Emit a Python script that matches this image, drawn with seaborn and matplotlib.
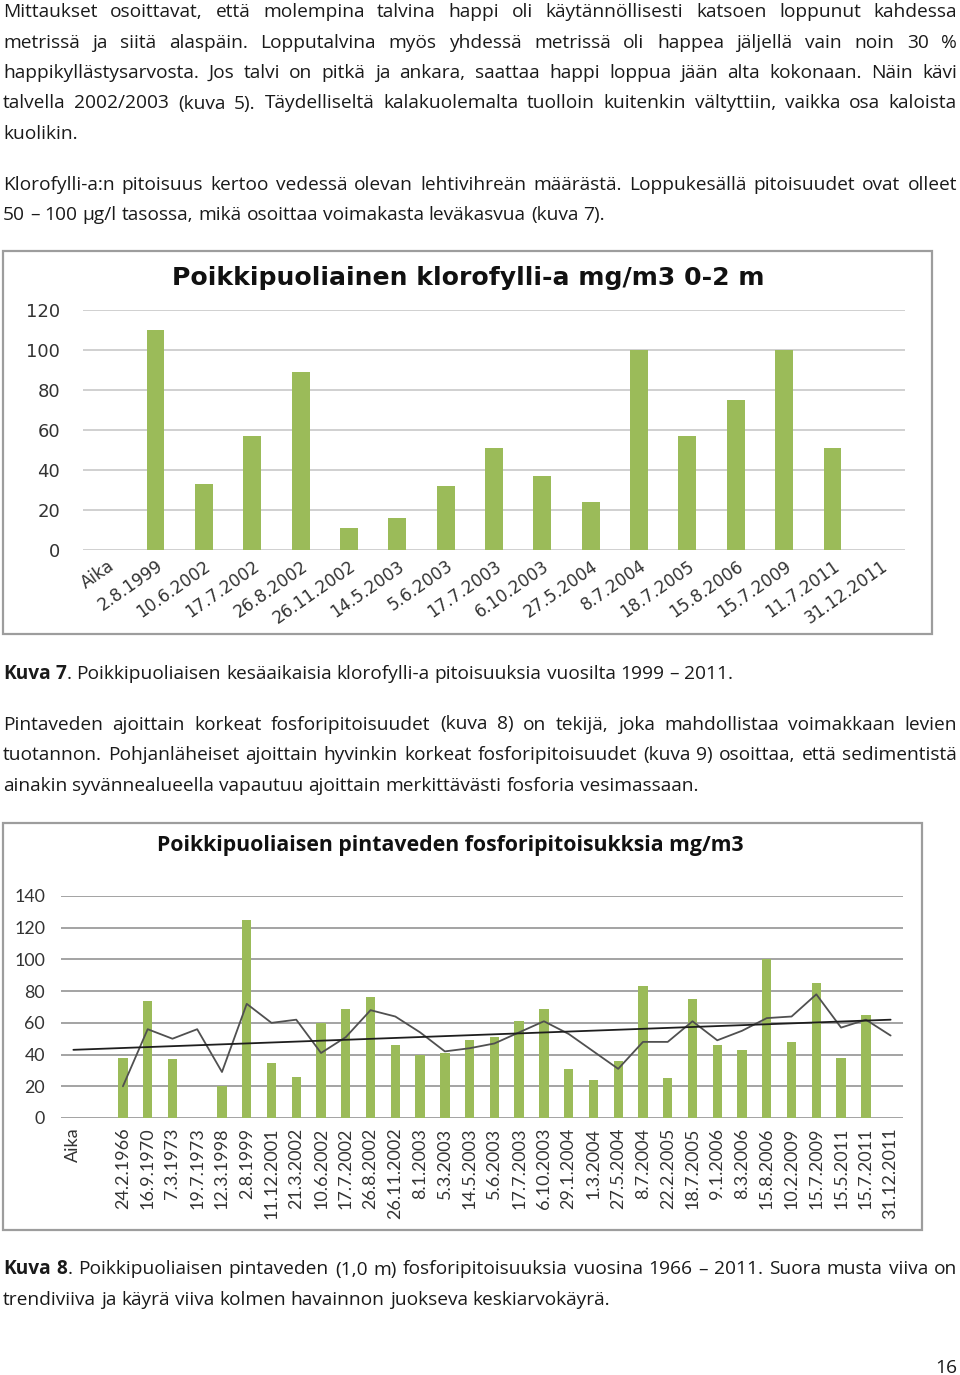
import numpy as np
import pandas as pd
import matplotlib
matplotlib.use("Agg")
import matplotlib.pyplot as plt
import matplotlib.transforms as mtransforms
from matplotlib.patches import Rectangle
import seaborn as sns

# ---------------- data ----------------
chl_dates = ["Aika", "2.8.1999", "10.6.2002", "17.7.2002", "26.8.2002", "26.11.2002",
             "14.5.2003", "5.6.2003", "17.7.2003", "6.10.2003", "27.5.2004", "8.7.2004",
             "18.7.2005", "15.8.2006", "15.7.2009", "11.7.2011", "31.12.2011"]
chl_values = [np.nan, 110, 33, 57, 89, 11, 16, 32, 51, 37, 24, 100, 57, 75, 100, 51, np.nan]
chl_yticks = [0, 20, 40, 60, 80, 100, 120]
chl_title = "Poikkipuoliainen klorofylli-a mg/m3 0-2 m"

p_dates = ["Aika", " ", "24.2.1966", "16.9.1970", "7.3.1973", "19.7.1973", "12.3.1998",
           "2.8.1999", "11.12.2001", "21.3.2002", "10.6.2002", "17.7.2002", "26.8.2002",
           "26.11.2002", "8.1.2003", "5.3.2003", "14.5.2003", "5.6.2003", "17.7.2003",
           "6.10.2003", "29.1.2004", "1.3.2004", "27.5.2004", "8.7.2004", "22.2.2005",
           "18.7.2005", "9.1.2006", "8.3.2006", "15.8.2006", "10.2.2009", "15.7.2009",
           "15.5.2011", "15.7.2011", "31.12.2011"]
p_values = [np.nan, np.nan, 38, 74, 37, np.nan, 20, 125, 35, 26, 60, 69, 76, 46, 40, 41,
            49, 51, 61, 69, 31, 24, 36, 83, 25, 75, 46, 43, 100, 48, 85, 38, 65, np.nan]
p_running_mean = [20, 56, 50, 56, 29, 72, 60, 62, 41, 51, 68, 64, 54, 42, 44, 47, 54, 61,
                  53, 42, 31, 48, 48, 61, 49, 55, 63, 64, 78, 57, 62, 52]
# linear trend line end values (at "Aika" and at "31.12.2011")
p_trend_ends = [43, 62]
p_yticks = [0, 20, 40, 60, 80, 100, 120, 140]
p_title = "Poikkipuoliaisen pintaveden fosforipitoisukksia mg/m3"

para1 = [
    "Mittaukset osoittavat, että molempina talvina happi oli käytännöllisesti katsoen loppunut kahdessa",
    "metrissä ja siitä alaspäin. Lopputalvina myös yhdessä metrissä oli happea jäljellä vain noin 30 %",
    "happikyllästysarvosta. Jos talvi on pitkä ja ankara, saattaa happi loppua jään alta kokonaan. Näin kävi",
    "talvella 2002/2003 (kuva 5). Täydelliseltä kalakuolemalta tuolloin kuitenkin vältyttiin, vaikka osa kaloista",
    "kuolikin.",
]
para2 = [
    "Klorofylli-a:n pitoisuus kertoo vedessä olevan lehtivihreän määrästä. Loppukesällä pitoisuudet ovat olleet",
    "50 – 100 µg/l tasossa, mikä osoittaa voimakasta leväkasvua (kuva 7).",
]
caption7 = ["*Kuva* *7*. Poikkipuoliaisen kesäaikaisia klorofylli-a pitoisuuksia vuosilta 1999 – 2011."]
para3 = [
    "Pintaveden ajoittain korkeat fosforipitoisuudet (kuva 8) on tekijä, joka mahdollistaa voimakkaan levien",
    "tuotannon. Pohjanläheiset ajoittain hyvinkin korkeat fosforipitoisuudet (kuva 9) osoittaa, että sedimentistä",
    "ainakin syvännealueella vapautuu ajoittain merkittävästi fosforia vesimassaan.",
]
caption8 = [
    "*Kuva* *8*. Poikkipuoliaisen pintaveden (1,0 m) fosforipitoisuuksia vuosina 1966 – 2011. Suora musta viiva on",
    "trendiviiva ja käyrä viiva kolmen havainnon juokseva keskiarvokäyrä.",
]
page_no = "16"

# ---------------- style ----------------
sns.set_theme(style="white")
TXT_FONT = ["Open Sans", "DejaVu Sans"]
LBL_FONT = ["Lato", "DejaVu Sans"]
WIDE_FONT = ["DejaVu Sans"]
plt.rcParams["font.family"] = TXT_FONT
GREEN = "#9BBB59"
TEXT_C = "#1a1a1a"
LABEL_C = "#333333"

W, H = 960, 1375
fig = plt.figure(figsize=(W / 100, H / 100), dpi=100)
fig.patch.set_facecolor("white")
renderer = fig.canvas.get_renderer()


def fx(px):
    return px / W


def fy(py):
    return 1 - py / H


def measure(s, **kw):
    t = fig.text(0, 0, s, **kw)
    w = t.get_window_extent(renderer).width
    t.remove()
    return w


def fit_size(s, target_px, base=12.0, **kw):
    return base * target_px / measure(s, fontsize=base, **kw)


def pieces(word):
    parts = word.split("*")
    return [(p, i % 2 == 1) for i, p in enumerate(parts) if p]


# body font size chosen so the last line of paragraph 3 spans like the page
TXT_SIZE = fit_size(para3[-1], 694, family=TXT_FONT)


def draw_line(text, base_y, justify, x0=3, x1=957, size=None):
    size = size or TXT_SIZE
    kw = dict(fontsize=size, family=TXT_FONT)
    words = text.split(" ")
    widths = []
    for w in words:
        widths.append(sum(measure(p, fontweight="bold" if b else "normal", **kw)
                          for p, b in pieces(w)))
    space = measure("a a", **kw) - measure("aa", **kw)
    if justify and len(words) > 1:
        gap = (x1 - x0 - sum(widths)) / (len(words) - 1)
    else:
        gap = space
    x = x0
    for w, wd in zip(words, widths):
        xx = x
        for p, b in pieces(w):
            wt = "bold" if b else "normal"
            fig.text(fx(xx), fy(base_y), p, ha="left", va="baseline",
                     fontweight=wt, color=TEXT_C, **kw)
            xx += measure(p, fontweight=wt, **kw)
        x += wd + gap


def draw_par(lines, baselines):
    for i, (ln, b) in enumerate(zip(lines, baselines)):
        draw_line(ln, b, justify=(i < len(lines) - 1))


draw_par(para1, [17, 47.5, 78, 108.5, 139])
draw_par(para2, [189.5, 220])
draw_par(caption7, [679])
draw_par(para3, [729.5, 760, 791])
draw_par(caption8, [1274.5, 1305])
fig.text(fx(957), fy(1373), page_no, ha="right", va="baseline",
         fontsize=TXT_SIZE, color=TEXT_C, family=TXT_FONT)


def add_box(x0, y0, x1, y1):
    fig.add_artist(Rectangle((fx(x0), fy(y1)), (x1 - x0) / W, (y1 - y0) / H,
                             transform=fig.transFigure, fill=False,
                             edgecolor="#9d9d9d", lw=1.6))


def add_axes_px(x0, y0, x1, y1):
    return fig.add_axes([fx(x0), fy(y1), (x1 - x0) / W, (y1 - y0) / H])


# ---------------- chart 1: chlorophyll ----------------
add_box(3, 251, 932, 634)
t1_size = fit_size(chl_title, 590, family=WIDE_FONT, fontweight="bold")
fig.text(fx(468), fy(278), chl_title, ha="center", va="center",
         fontsize=t1_size, fontweight="bold", family=WIDE_FONT, color="#111111")

ax1 = add_axes_px(83, 310, 905, 550)
df1 = pd.DataFrame({"date": chl_dates, "value": chl_values})
sns.barplot(data=df1, x="date", y="value", order=chl_dates, color=GREEN,
            width=0.37, errorbar=None, linewidth=0, saturation=1, ax=ax1)
ax1.set_xlim(-0.5, len(chl_dates) - 0.5)
ax1.set_ylim(0, 120)
ax1.set_yticks(chl_yticks)
ax1.set_yticklabels([str(v) for v in chl_yticks], family=WIDE_FONT,
                    fontsize=13, color=LABEL_C)
ax1.set_xticks(range(len(chl_dates)))
ax1.set_xticklabels(chl_dates, rotation=35, ha="right", va="top",
                    rotation_mode="anchor", family=WIDE_FONT,
                    fontsize=12.2, color=LABEL_C)
off = mtransforms.ScaledTranslation(0.05, 0, fig.dpi_scale_trans)
for lab in ax1.get_xticklabels():
    lab.set_transform(lab.get_transform() + off)
ax1.tick_params(axis="y", length=0, pad=16.5)
ax1.tick_params(axis="x", length=0, pad=5)
ax1.set_xlabel("")
ax1.set_ylabel("")
ax1.set_facecolor("none")
for s in ax1.spines.values():
    s.set_visible(False)
ax1.yaxis.grid(True, color="#c4c4c4", lw=1.1)
ax1.set_axisbelow(True)

# ---------------- chart 2: phosphorus ----------------
add_box(3, 823, 922, 1230)
t2_size = fit_size(p_title, 586, family=TXT_FONT, fontweight="bold")
fig.text(fx(450), fy(846), p_title, ha="center", va="center",
         fontsize=t2_size, fontweight="bold", family=TXT_FONT, color="#111111")

ax2 = add_axes_px(61, 896, 903, 1118)
df2 = pd.DataFrame({"date": p_dates, "value": p_values})
sns.barplot(data=df2, x="date", y="value", order=p_dates, color=GREEN,
            width=0.38, errorbar=None, linewidth=0, saturation=1, ax=ax2)
pos = np.arange(len(p_dates))
ma_x = pos[len(p_dates) - len(p_running_mean):]
sns.lineplot(x=ma_x, y=p_running_mean, color="#505050", lw=1.3, ax=ax2)
sns.lineplot(x=[pos[0], pos[-1]], y=p_trend_ends, color="#1e1e1e", lw=1.3, ax=ax2)
ax2.set_xlim(-0.5, len(p_dates) - 0.5)
ax2.set_ylim(0, 140)
ax2.set_yticks(p_yticks)
ax2.set_yticklabels([str(v) for v in p_yticks], family=LBL_FONT,
                    fontsize=12.8, color=LABEL_C)
ax2.set_xticks(pos)
ax2.set_xticklabels(p_dates, rotation=90, ha="center", va="top",
                    family=LBL_FONT, fontsize=13, color=LABEL_C)
ax2.tick_params(axis="y", length=0, pad=11.5)
ax2.tick_params(axis="x", length=0, pad=7)
ax2.set_xlabel("")
ax2.set_ylabel("")
ax2.set_facecolor("none")
for s in ax2.spines.values():
    s.set_visible(False)
ax2.yaxis.grid(True, color="#8a8a8a", lw=1.1)
ax2.set_axisbelow(True)

fig.savefig("out.png", dpi=100, facecolor="white")
